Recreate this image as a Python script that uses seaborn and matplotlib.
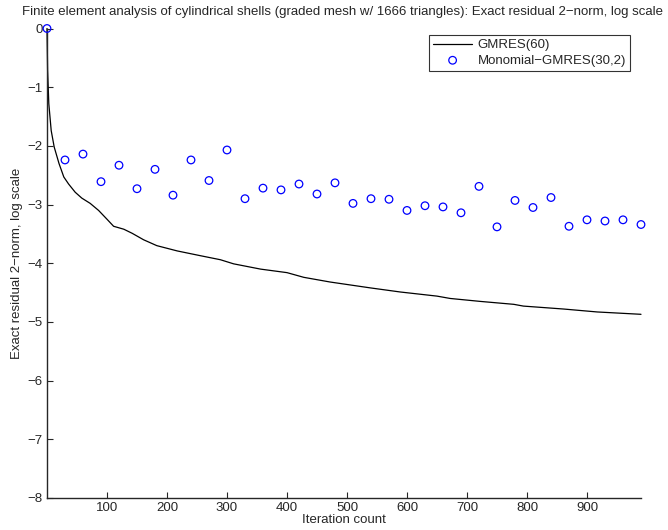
import matplotlib
matplotlib.use("Agg")
import matplotlib.pyplot as plt
import seaborn as sns
import pandas as pd

# GMRES(60) residual curve (log10 of exact residual 2-norm)
gmres_it = [0, 1, 3, 7, 12, 20, 28, 36, 47, 58, 72, 86, 100, 111, 128, 142, 161,
            183, 217, 255, 289, 311, 356, 400, 428, 472, 539, 589, 650, 672, 722,
            778, 794, 861, 917, 990]
gmres_res = [0, -0.71, -1.28, -1.74, -2.02, -2.30, -2.53, -2.65, -2.79, -2.89, -2.98,
             -3.10, -3.25, -3.37, -3.42, -3.49, -3.60, -3.70, -3.79, -3.87, -3.94,
             -4.01, -4.10, -4.16, -4.24, -4.32, -4.42, -4.49, -4.56, -4.60, -4.65,
             -4.70, -4.73, -4.78, -4.83, -4.87]

# Monomial-GMRES(30,2), one sample per restart cycle
mono_it = list(range(0, 991, 30))
mono_res = [0, -2.24, -2.14, -2.61, -2.33, -2.73, -2.40, -2.84, -2.24, -2.59, -2.07,
            -2.90, -2.72, -2.75, -2.65, -2.82, -2.63, -2.98, -2.90, -2.91, -3.10,
            -3.02, -3.04, -3.14, -2.69, -3.38, -2.93, -3.05, -2.88, -3.37, -3.26,
            -3.28, -3.26, -3.34]

xticks = [100, 200, 300, 400, 500, 600, 700, 800, 900]
yticks = [0, -1, -2, -3, -4, -5, -6, -7, -8]

sns.set_style("ticks")
plt.rcParams["font.family"] = ["Liberation Sans", "DejaVu Sans"]
plt.rcParams["axes.unicode_minus"] = True

fig = plt.figure(figsize=(6.68, 5.30), dpi=100)
ax = fig.add_axes([47 / 668, 1 - 498 / 530, (641 - 47) / 668, (498 - 28.5) / 530])

line_df = pd.DataFrame({"it": gmres_it, "res": gmres_res})
mono_df = pd.DataFrame({"it": mono_it, "res": mono_res})

sns.lineplot(data=line_df, x="it", y="res", ax=ax, color="black", linewidth=0.9,
             label="GMRES(60)", clip_on=False)
sns.scatterplot(data=mono_df, x="it", y="res", ax=ax, marker="o", s=30,
                facecolor="none", edgecolor="blue", linewidth=0.9,
                label="Monomial\u2212GMRES(30,2)", clip_on=False, zorder=3)

ax.set_xlim(0, 990)
ax.set_ylim(-8, 0)
ax.set_xticks(xticks)
ax.set_yticks(yticks)
ax.set_yticklabels([str(t).replace("-", "\u2212") for t in yticks])
ax.tick_params(direction="in", length=4, width=0.8, labelsize=9.5, pad=3)
for side in ["top", "right"]:
    ax.spines[side].set_visible(False)
for side in ["left", "bottom"]:
    ax.spines[side].set_linewidth(1.0)

ax.set_xlabel("Iteration count", fontsize=9.5, labelpad=0)
ax.set_ylabel("Exact residual 2\u2212norm, log scale", fontsize=9.5, labelpad=3)
fig.text(342 / 668, 1 - 12 / 530,
         "Finite element analysis of cylindrical shells (graded mesh w/ 1666 triangles): "
         "Exact residual 2\u2212norm, log scale",
         ha="center", va="center", fontsize=9.5)

leg = ax.legend(loc="upper right", bbox_to_anchor=(630 / 668, 1 - 35 / 530),
                bbox_transform=fig.transFigure, fontsize=9.5, frameon=True,
                fancybox=False, handlelength=3.0, borderpad=0.3, labelspacing=0.25,
                handletextpad=0.4, borderaxespad=0)
leg.get_frame().set_edgecolor("black")
leg.get_frame().set_linewidth(0.8)

fig.savefig("out.png", dpi=100)
